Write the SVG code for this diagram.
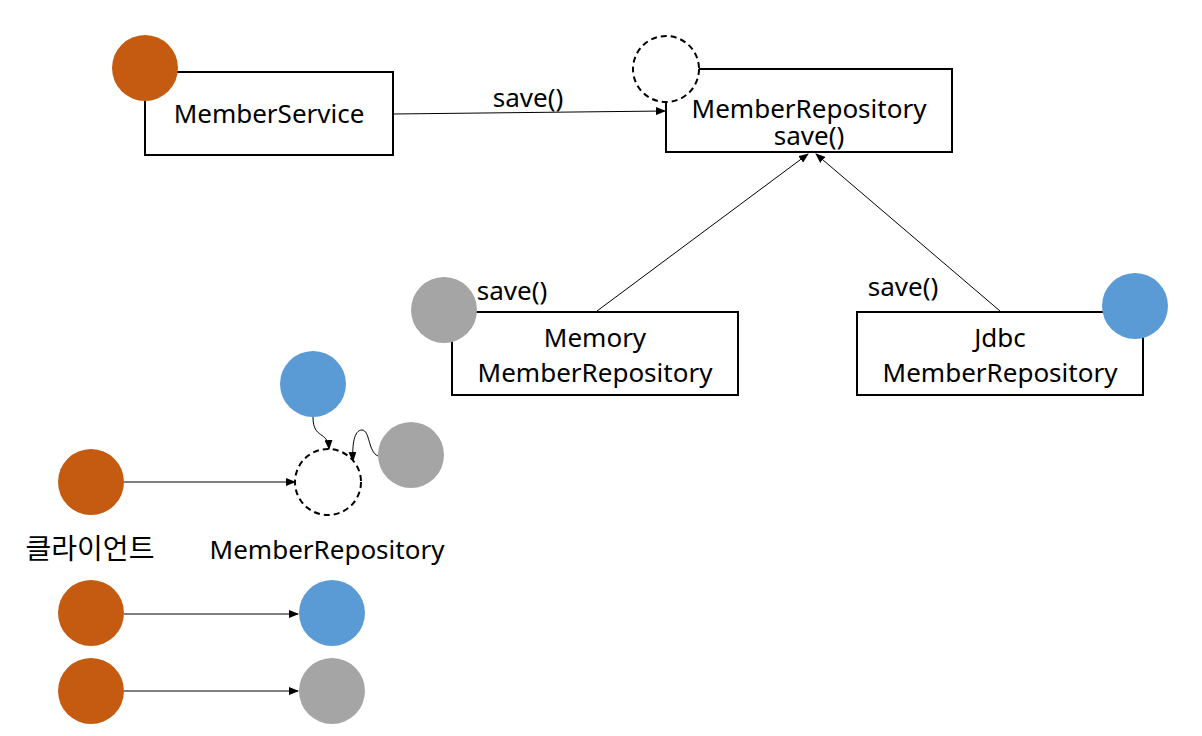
<svg xmlns="http://www.w3.org/2000/svg" width="1202" height="736" viewBox="0 0 1202 736">
<defs>
<marker id="ah" markerWidth="10" markerHeight="8" refX="9" refY="4" orient="auto" markerUnits="userSpaceOnUse">
<path d="M0,0 L10,4 L0,8 Z" fill="#000"/>
</marker>
<style>
.box{fill:#fff;stroke:#000;stroke-width:2}
.t{font-family:"Noto Sans","Noto Sans CJK KR",sans-serif;font-size:26px;fill:#000}
.k{font-family:"Noto Sans CJK KR",sans-serif;font-size:28px;fill:#000}
.or{fill:#C55A11}
.bl{fill:#5B9BD5}
.gr{fill:#A5A5A5}
.dash{fill:none;stroke:#000;stroke-width:2;stroke-dasharray:6 4}
.ln{fill:none;stroke:#000;stroke-width:1;marker-end:url(#ah)}
</style>
</defs>
<rect width="1202" height="736" fill="#fff"/>
<g id="connectors">
<line class="ln" x1="393" y1="114" x2="665" y2="111"/>
<line class="ln" x1="597" y1="311" x2="808" y2="154"/>
<line class="ln" x1="1000" y1="311" x2="816" y2="154"/>
<path class="ln" d="M313,417 C313,440 328,430 329,449"/>
<path class="ln" d="M378,456 C368,452 370,430 362,430 C354,430 352,445 353,461"/>
<line class="ln" x1="124" y1="482" x2="295" y2="482"/>
<line class="ln" x1="124" y1="614" x2="298" y2="614"/>
<line class="ln" x1="124" y1="691" x2="298" y2="691"/>
</g>
<g id="memberService">
<rect class="box" x="145" y="72" width="248" height="83"/>
<circle class="or" cx="145" cy="68" r="33"/>
<text class="t" x="269" y="123" text-anchor="middle">MemberService</text>
</g>
<g id="label-save-top"><text class="t" x="528" y="107" text-anchor="middle">save()</text></g>
<g id="memberRepository">
<rect class="box" x="666" y="69" width="286" height="83"/>
<circle cx="666" cy="69" r="33" fill="#fff" stroke="none"/>
<circle class="dash" cx="666" cy="69" r="33"/>
<text class="t" x="809" y="118" text-anchor="middle">MemberRepository</text>
<text class="t" x="809" y="145" text-anchor="middle">save()</text>
</g>
<g id="memoryRepo">
<rect class="box" x="452" y="312" width="286" height="83"/>
<circle class="gr" cx="444" cy="310" r="33"/>
<text class="t" x="595" y="347" text-anchor="middle">Memory</text>
<text class="t" x="595" y="382" text-anchor="middle">MemberRepository</text>
<text class="t" x="512" y="300" text-anchor="middle">save()</text>
</g>
<g id="jdbcRepo">
<rect class="box" x="857" y="312" width="286" height="83"/>
<circle class="bl" cx="1135" cy="306" r="33"/>
<text class="t" x="1000" y="347" text-anchor="middle">Jdbc</text>
<text class="t" x="1000" y="382" text-anchor="middle">MemberRepository</text>
<text class="t" x="903" y="296" text-anchor="middle">save()</text>
</g>
<g id="bottom">
<circle class="bl" cx="313" cy="384" r="33"/>
<circle class="gr" cx="411" cy="455" r="33"/>
<circle class="dash" cx="328" cy="482" r="33"/>
<circle class="or" cx="91" cy="482" r="33"/>
<circle class="or" cx="91" cy="613" r="33"/>
<circle class="or" cx="91" cy="691" r="33"/>
<circle class="bl" cx="332" cy="613" r="33"/>
<circle class="gr" cx="332" cy="691" r="33"/>
<text class="k" x="90" y="559" text-anchor="middle">클라이언트</text>
<text class="t" x="327" y="559" text-anchor="middle">MemberRepository</text>
</g>
</svg>
